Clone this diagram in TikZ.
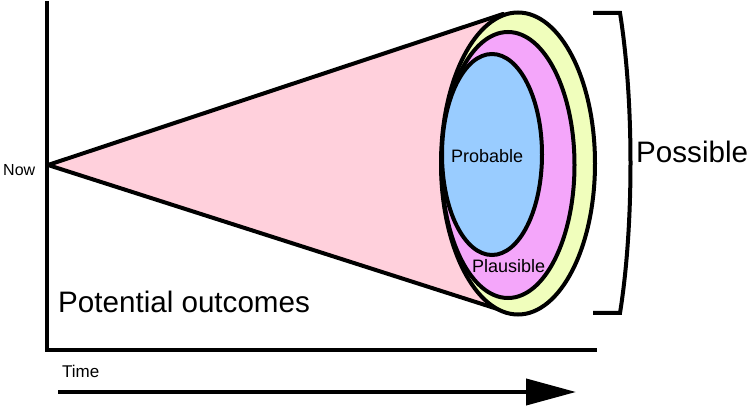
\documentclass[tikz,border=0pt]{standalone}
\usepackage{fontspec}
\setmainfont{Liberation Sans}
\usetikzlibrary{arrows.meta}
\definecolor{conepink}{RGB}{255,208,220}
\definecolor{possyellow}{RGB}{240,254,188}
\definecolor{plausmag}{RGB}{244,166,250}
\definecolor{probblue}{RGB}{153,204,255}
\begin{document}
\begin{tikzpicture}[x=1pt,y=-1pt,
  thick line/.style={line width=4pt,draw=black},
  ring/.style={line width=4pt,draw=black},
  lbl/.style={inner sep=0pt,anchor=base west,text=black},
  timearrow/.style={line width=4pt,-{Triangle[length=50pt,width=26pt]}}]
\useasboundingbox (0,0) rectangle (748,406);
% coordinates
\coordinate (apex) at (48,165);
\coordinate (ctop) at (503,14);
\coordinate (cbot) at (510,313);
\coordinate (axtop) at (47,1);
\coordinate (axcorner) at (47,350);
\coordinate (axend) at (597,350);
\coordinate (tstart) at (58,392);
\coordinate (tend) at (576,392);
\coordinate (bt1) at (593,13);
\coordinate (bt2) at (620,13);
\coordinate (bb2) at (620,313);
\coordinate (bb1) at (593,313);
% axes
\draw[thick line,line join=miter] (axtop) -- (axcorner) -- (axend);
% cone
\fill[conepink] (apex) -- (ctop) -- (cbot) -- cycle;
\draw[thick line,line cap=round] (apex) -- (ctop);
\draw[thick line,line cap=round] (apex) -- (cbot);
% ellipses
\draw[ring,fill=possyellow] (518,163.5) ellipse [x radius=77pt, y radius=151pt];
\draw[ring,fill=plausmag] (508,165) ellipse [x radius=66.5pt, y radius=133pt];
\draw[ring,fill=probblue] (492,154.5) ellipse [x radius=50pt, y radius=100.5pt];
% bracket
\draw[thick line,line join=miter] (bt1) -- (bt2) .. controls (634,100) and (634,226) .. (bb2) -- (bb1);
% time arrow
\draw[timearrow] (tstart) -- (tend);
% labels
\node[lbl,font=\fontsize{16}{19}\selectfont] (now) at (3,176) {Now};
\node[lbl,font=\fontsize{17}{20}\selectfont] (time) at (62,378) {Time};
\node[lbl,font=\fontsize{29.6}{34}\selectfont] (potential) at (58,313) {Potential outcomes};
\node[lbl,font=\fontsize{29.6}{34}\selectfont] (possible) at (636,163) {Possible};
\node[lbl,font=\fontsize{18}{21}\selectfont] (probable) at (451,163) {Probable};
\node[lbl,font=\fontsize{18}{21}\selectfont] (plausible) at (472,273) {Plausible};
\end{tikzpicture}
\end{document}
